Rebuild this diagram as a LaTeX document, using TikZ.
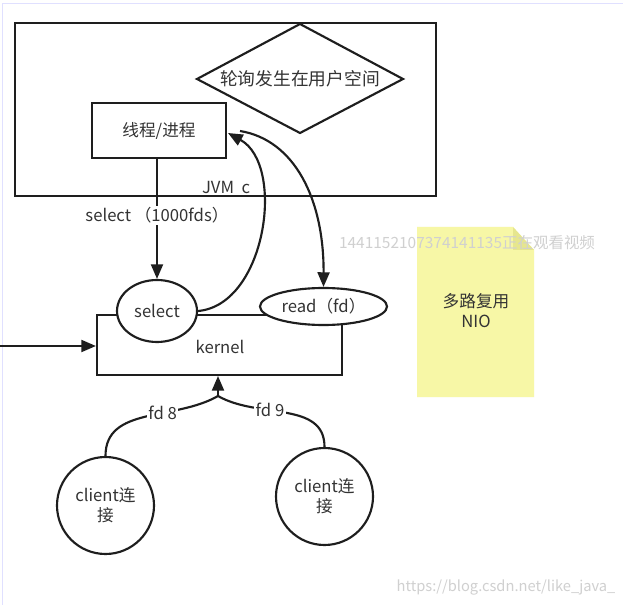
\documentclass[tikz,border=0pt]{standalone}
\usepackage{fontspec}
\setmainfont{Noto Sans CJK SC}
\usetikzlibrary{arrows.meta,shapes.geometric}
\definecolor{ink}{HTML}{1E1E1E}
\definecolor{txt}{HTML}{333333}
\definecolor{note}{HTML}{F7F7A6}
\definecolor{notefold}{HTML}{E6E68E}
\definecolor{wm}{HTML}{D0D0D0}
\tikzset{
  ln/.style={draw=ink,line width=1.6pt},
  arr/.style={ln,-{Triangle[length=11pt,width=9pt]}},
  boxn/.style={ln,fill=white,rectangle,inner sep=0pt,text=txt},
  elln/.style={ln,fill=white,ellipse,inner sep=0pt,text=txt},
  lbl/.style={fill=white,inner sep=1pt,text=txt},
  every node/.style={font=\fontsize{12.5pt}{15pt}\selectfont}
}
\begin{document}
\begin{tikzpicture}[x=0.75pt,y=-0.75pt]
\useasboundingbox (0,0) rectangle (623,605);
\fill[white] (0,0) rectangle (623,605);
\draw[draw=blue!12,line width=0.6pt] (2,3) rectangle (623,605);
% outer frame (user space)
\node[boxn,minimum width=421*0.75pt,minimum height=173*0.75pt] (jvm) at (225.5,109.5) {};
\coordinate (dN) at (300,24);
\coordinate (dE) at (403,79);
\coordinate (dS) at (300,133);
\coordinate (dW) at (197,79);
\draw[ln,fill=white,line join=miter] (dN) -- (dE) -- (dS) -- (dW) -- cycle;
\node[text=txt,font=\fontsize{13.3pt}{15pt}\selectfont] (diat) at (300,79) {轮询发生在用户空间};
\node[boxn,minimum width=134*0.75pt,minimum height=55*0.75pt] (thr) at (159,130.5) {线程/进程};
\node[text=txt] (jvmt) at (226,188) {JVM\ \ c};
% kernel
\node[boxn,minimum width=245*0.75pt,minimum height=60*0.75pt] (ker) at (219.5,345) {};
\node[text=txt] (kert) at (220,347) {kernel};
\node[elln,minimum width=80*0.75pt,minimum height=62*0.75pt] (sel) at (157,311) {select};
\node[elln,minimum width=127*0.75pt,minimum height=37*0.75pt] (rd) at (323.5,306.5) {read（fd）};
% thread -> select
\draw[arr] (thr.south -| sel.north) -- (sel.north) node[lbl,pos=0.47] (sl) {select （1000fds）};
% select -> thread
\coordinate (tipa) at (228,133);
\draw[arr] (sel.east) .. controls (266,305) and (286,165) .. (tipa);
\coordinate (st2) at (240,131);
\draw[arr] (st2) .. controls (295,140) and (324,200) .. (rd.north);
% left arrow
\coordinate (lin) at (0,346);
\draw[arr] (lin) -- (ker.west |- lin);
% clients
\node[elln,minimum width=97*0.75pt,minimum height=97*0.75pt,align=center] (c1) at (105.5,505.5) {client连\\接};
\node[elln,minimum width=97*0.75pt,minimum height=97*0.75pt,align=center] (c2) at (324.5,496.5) {client连\\接};
\coordinate (meet) at (218,396);
\draw[ln] (c1.north) to[out=90,in=-150] node[lbl,pos=0.62] (f8) {fd 8} (meet);
\draw[ln] (c2.north) to[out=90,in=-30] node[lbl,pos=0.62] (f9) {fd 9} (meet);
\draw[arr] (meet) -- (218,376);
% note
\fill[note] (417,227) -- (513,227) -- (534,250) -- (534,397) -- (417,397) -- cycle;
\fill[notefold] (513,227) -- (534,250) -- (513,250) -- cycle;
\node[text=txt,align=center] (nio) at (476,311) {多路复用\\NIO};
% watermarks
\node[text=wm,font=\fontsize{11.6pt}{14pt}\selectfont] (wm1) at (467,243) {1441152107374141135正在观看视频};
\node[text=wm,font=\fontsize{11pt}{13pt}\selectfont] (wm2) at (506,587) {https://blog.csdn.net/like\_java\_};
\end{tikzpicture}
\end{document}
